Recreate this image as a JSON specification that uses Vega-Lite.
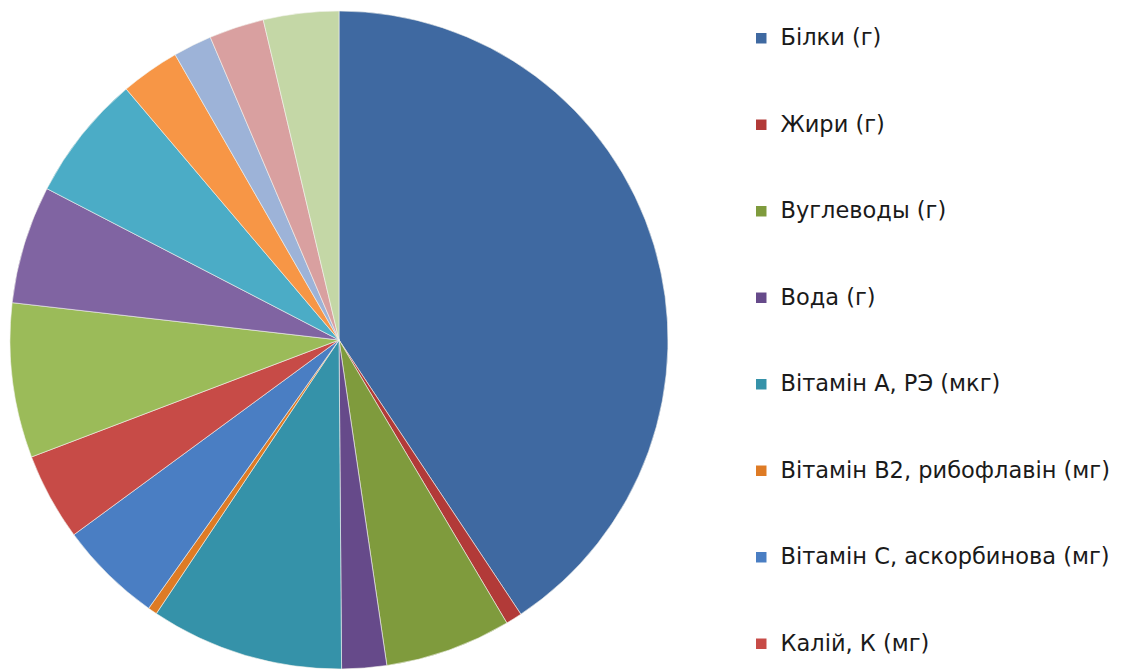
{
  "$schema": "https://vega.github.io/schema/vega-lite/v6.json",
  "width": 678,
  "height": 680,
  "padding": 0,
  "background": "white",
  "view": {"stroke": null},
  "data": {
    "values": [
      {"idx": 1, "name": "Білки (г)", "value": 40.7},
      {"idx": 2, "name": "Жири (г)", "value": 0.8},
      {"idx": 3, "name": "Вуглеводы (г)", "value": 6.2},
      {"idx": 4, "name": "Вода (г)", "value": 2.2},
      {"idx": 5, "name": "Вітамін А, РЭ (мкг)", "value": 9.5},
      {"idx": 6, "name": "Вітамін В2, рибофлавін (мг)", "value": 0.45},
      {"idx": 7, "name": "Вітамін С, аскорбинова (мг)", "value": 5.1},
      {"idx": 8, "name": "Калій, К (мг)", "value": 4.3},
      {"idx": 9, "name": "Кальцій, Са (мг)", "value": 7.6},
      {"idx": 10, "name": "Магній, Mg (мг)", "value": 5.8},
      {"idx": 11, "name": "Натрій, Na (мг)", "value": 6.2},
      {"idx": 12, "name": "Фосфор, Р (мг)", "value": 2.9},
      {"idx": 13, "name": "Залізо, Fe (мг)", "value": 1.9},
      {"idx": 14, "name": "Цинк, Zn (мг)", "value": 2.7},
      {"idx": 15, "name": "Мідь, Cu (мкг)", "value": 3.7}
    ]
  },
  "mark": {"type": "arc", "outerRadius": 329, "stroke": "#f4f4ee", "strokeWidth": 0.6},
  "encoding": {
    "theta": {"field": "value", "type": "quantitative", "stack": true},
    "order": {"field": "idx", "type": "quantitative"},
    "color": {
      "field": "name",
      "type": "nominal",
      "sort": {"field": "idx"},
      "scale": {
        "domain": ["Білки (г)", "Жири (г)", "Вуглеводы (г)", "Вода (г)", "Вітамін А, РЭ (мкг)", "Вітамін В2, рибофлавін (мг)", "Вітамін С, аскорбинова (мг)", "Калій, К (мг)", "Кальцій, Са (мг)", "Магній, Mg (мг)", "Натрій, Na (мг)", "Фосфор, Р (мг)", "Залізо, Fe (мг)", "Цинк, Zn (мг)", "Мідь, Cu (мкг)"],
        "range": ["#3F69A1", "#B23A38", "#7F9B3D", "#664A8A", "#3592A9", "#DE7B25", "#4A7EC3", "#C74B47", "#9BBB59", "#8064A2", "#4BACC6", "#F79646", "#9DB3D8", "#D9A0A0", "#C4D7A6"]
      },
      "legend": {
        "values": ["Білки (г)", "Жири (г)", "Вуглеводы (г)", "Вода (г)", "Вітамін А, РЭ (мкг)", "Вітамін В2, рибофлавін (мг)", "Вітамін С, аскорбинова (мг)", "Калій, К (мг)"],
        "title": null,
        "orient": "none",
        "legendX": 750,
        "legendY": 27,
        "padding": 0,
        "symbolType": "square",
        "symbolSize": 110,
        "symbolStrokeWidth": 0,
        "symbolOpacity": 1,
        "labelFont": "DejaVu Sans",
        "labelFontSize": 22.5,
        "labelColor": "#1a1a1a",
        "labelOffset": 8,
        "labelLimit": 400,
        "rowPadding": 63.5
      }
    }
  }
}
